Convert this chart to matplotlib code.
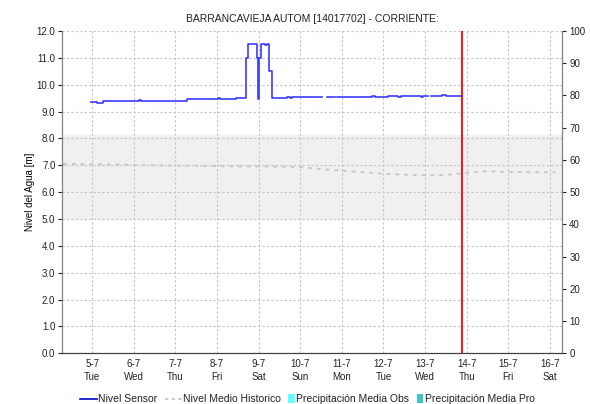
import matplotlib
matplotlib.use("Agg")
import matplotlib.pyplot as plt
import numpy as np
from matplotlib.patches import Rectangle
from matplotlib.lines import Line2D

plt.rcParams['font.family'] = ['Liberation Sans', 'DejaVu Sans']

title = "BARRANCAVIEJA AUTOM [14017702] - CORRIENTE:"

# days of July (fractional) and water level [m]; nan = no data
sensor_day = [4.96, 5.12, 5.27, 6.12, 6.17, 7.28, 7.32, 8.03, 8.07, 8.45,
              8.70, 8.74, 8.97, 8.99, 9.02, 9.06, 9.16, 9.19, 9.26, 9.31,
              9.68, 9.75, 9.80, 10.52, 10.64, 10.84, 10.88, 11.72, 11.80, 12.10,
              12.35, 12.42, 12.90, 12.95, 13.06, 13.15, 13.40, 13.50, 13.89]
sensor_lvl = [9.36, 9.33, 9.40, 9.42, 9.41, 9.46, 9.47, 9.49, 9.47, 9.50,
              11.00, 11.50, 11.00, 9.45, 11.00, 11.50, 11.46, 11.50, 10.50, 9.49,
              9.53, 9.50, 9.53, np.nan, 9.53, np.nan, 9.53, 9.57, 9.53, 9.57,
              9.55, 9.57, 9.55, 9.57, np.nan, 9.57, 9.61, 9.58, 9.58]

hist_day = [4.30, 5.0, 5.5, 6.0, 6.5, 7.0, 7.5, 8.0, 8.5, 9.0, 9.5, 10.0, 10.5,
            11.0, 11.5, 12.0, 12.5, 13.0, 13.5, 14.0, 14.5, 15.0, 15.5, 16.0, 16.13]
hist_lvl = [7.05, 7.04, 7.03, 7.01, 7.00, 6.99, 6.98, 6.97, 6.96, 6.96, 6.95, 6.93, 6.86,
            6.80, 6.74, 6.69, 6.65, 6.63, 6.64, 6.72, 6.78, 6.75, 6.74, 6.74, 6.74]

band_low, band_high = 4.95, 8.12
now_day = 13.9

tick_days = list(range(5, 17))
tick_names = ["Tue", "Wed", "Thu", "Fri", "Sat", "Sun", "Mon", "Tue", "Wed", "Thu", "Fri", "Sat"]

legend_labels = ["Nivel Sensor", "Nivel Medio Historico", "Precipitación Media Obs", "Precipitación Media Pro"]
legend_kinds = ["line", "dots", "patch", "patch"]
legend_colors = ["#0000c8", "#c0c0c0", "#66ffff", "#40c8c8"]

W, H = 590, 404
fig = plt.figure(figsize=(W / 100, H / 100), dpi=100)
ax = fig.add_axes([0.1056, 0.1255, 0.8475, 0.7978])
ax2 = ax.twinx()

xmin, xmax = 4.28, 16.30
ax.axhspan(band_low, band_high, color="#f0f0f0", lw=0, zorder=0)
ax.grid(True, color="#c4c4c4", linestyle=(0, (2, 2)), linewidth=0.8)
ax.set_axisbelow(True)

ax.plot(hist_day, hist_lvl, color="#c8c8c8", linestyle=(0, (2, 2.5)), linewidth=1.4, zorder=2)
ax.step(sensor_day, sensor_lvl, where="post", color="#3b3bff", linewidth=1.2, zorder=3)
ax.axvline(now_day, color="#ff1010", linewidth=1.4, zorder=4)

ax.set_xlim(xmin, xmax)
ax.set_ylim(0, 12)
ax.set_yticks(np.arange(0, 12.1, 1.0))
ax.set_yticklabels(["%.1f" % v for v in np.arange(0, 12.1, 1.0)])
ax.set_xticks(tick_days)
ax.set_xticklabels(["%d-7\n%s" % (d, n) for d, n in zip(tick_days, tick_names)],
                   linespacing=1.45)
ax.tick_params(axis="x", length=0, pad=4, labelsize=7, colors="#222222")
ax.tick_params(axis="y", length=3, width=0.8, pad=2, labelsize=7, colors="#222222")
ax.set_ylabel("Nivel del Agua [m]", fontsize=7, labelpad=1)

ax2.set_ylim(0, 100)
ax2.set_yticks(np.arange(0, 101, 10))
ax2.tick_params(axis="y", length=3, width=0.8, pad=2, labelsize=7, colors="#222222")

for a in (ax, ax2):
    a.spines["top"].set_visible(False)
    a.spines["left"].set_color("#808080")
    a.spines["right"].set_color("#808080")
    a.spines["bottom"].set_color("#404040")
    a.spines["bottom"].set_linestyle((0, (1, 1)))

ax.set_title(title, fontsize=7.5, pad=6.5, color="#222222")

# legend laid out by hand: long line handles, narrow colour swatches
renderer = fig.canvas.get_renderer()
x = 80.0
yc = H - 398.8
for kind, label, col in zip(legend_kinds, legend_labels, legend_colors):
    if kind == "patch":
        fig.add_artist(Rectangle((x / W, (yc - 4.5) / H), 6.5 / W, 9 / H,
                                 transform=fig.transFigure, facecolor=col, edgecolor="none"))
        x += 8.5
    else:
        ls = "-" if kind == "line" else (0, (2, 2))
        fig.add_artist(Line2D([x / W, (x + 17) / W], [yc / H, yc / H], transform=fig.transFigure,
                              color=col, linestyle=ls, linewidth=1.2))
        x += 18.5
    t = fig.text(x / W, yc / H, label, fontsize=7.5, va="center", ha="left", color="#222222")
    x += t.get_window_extent(renderer).width + 7

fig.savefig("out.png", dpi=100)
